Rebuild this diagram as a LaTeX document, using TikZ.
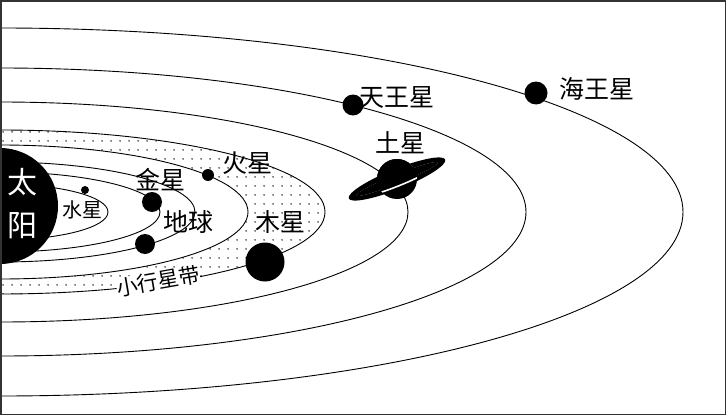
\documentclass[tikz,border=0pt]{standalone}
\usepackage{fontspec}
\newfontfamily\cjk{Noto Sans CJK SC}
\usetikzlibrary{patterns.meta}
\tikzdeclarepattern{name=sparsedots,type=uncolored,bounding box={(0,0) and (9pt,9pt)},tile size={(9pt,9pt)},code={\fill (4.5pt,4.5pt) circle (0.85pt);}}
\begin{document}
\begin{tikzpicture}[x=1pt,y=-1pt,
  orbit/.style={line width=0.9pt},
  planet/.style={circle,fill=black,inner sep=0pt},
  lab/.style={font=\cjk\fontsize{25}{25}\selectfont,inner sep=1pt}]
\useasboundingbox (0,0) rectangle (726,415);
\begin{scope}
\clip (0,0) rectangle (726,415);
% asteroid belt
\fill[pattern=sparsedots,even odd rule] (0,212) ellipse [x radius=325,y radius=82] (0,212) ellipse [x radius=248,y radius=67];
\foreach \rx/\ry in {108/28,160/40,195/50,248/67,325/82,408/110,526/144,683/184}
  \draw[orbit] (0,212) ellipse [x radius=\rx,y radius=\ry];
\fill (0,206) circle (58);
\end{scope}
\draw[line width=1.5pt,black!80] (0.75,0.75) rectangle (725.25,414.25);
\node[font=\cjk\fontsize{30}{30}\selectfont,text=white] (sun1) at (22,182) {太};
\node[font=\cjk\fontsize{30}{30}\selectfont,text=white] (sun2) at (22,226) {阳};
\node[planet,minimum size=8pt] (mercury) at (85,190) {};
\node[planet,minimum size=20pt] (venus) at (152,202) {};
\node[planet,minimum size=20pt] (earth) at (145,244) {};
\node[planet,minimum size=12pt] (mars) at (208,175) {};
\node[planet,minimum size=39pt] (jupiter) at (265,262) {};
\node[planet,minimum size=21pt] (uranus) at (353,105) {};
\node[planet,minimum size=23pt] (neptune) at (536,93) {};
% Saturn
\node[planet,minimum size=40pt] (saturn) at (397,179) {};
\fill[even odd rule,rotate around={22:(397,179)}] (397,179) ellipse [x radius=52,y radius=10] (397,179) ellipse [x radius=44,y radius=4.5];
\begin{scope}
\clip (397,179) circle (20);
\draw[white,line width=1.6pt,rotate around={22:(397,179)}] (397,179) ellipse [x radius=47,y radius=7];
\end{scope}
\fill[rotate around={22:(397,179)}] (397,179) ellipse [x radius=44,y radius=4.5];
\begin{scope}
\clip[rotate around={22:(397,179)}] (357,139) rectangle (437,179);
\fill (397,179) circle (20);
\end{scope}
\node[lab,font=\cjk\fontsize{20}{20}\selectfont] (lmercury) at (82,210) {水星};
\node[lab] (lvenus) at (160,180) {金星};
\node[lab] (lmars) at (247,163) {火星};
\node[lab] (learth) at (188,222) {地球};
\node[lab] (ljupiter) at (280,222) {木星};
\node[lab,font=\cjk\fontsize{21}{21}\selectfont,fill=white,inner sep=0pt,rotate=10] (lbelt) at (158,281) {小行星带};
\node[lab] (lsaturn) at (400,143) {土星};
\node[lab] (luranus) at (397,97) {天王星};
\node[lab] (lneptune) at (597,89) {海王星};
\end{tikzpicture}
\end{document}
